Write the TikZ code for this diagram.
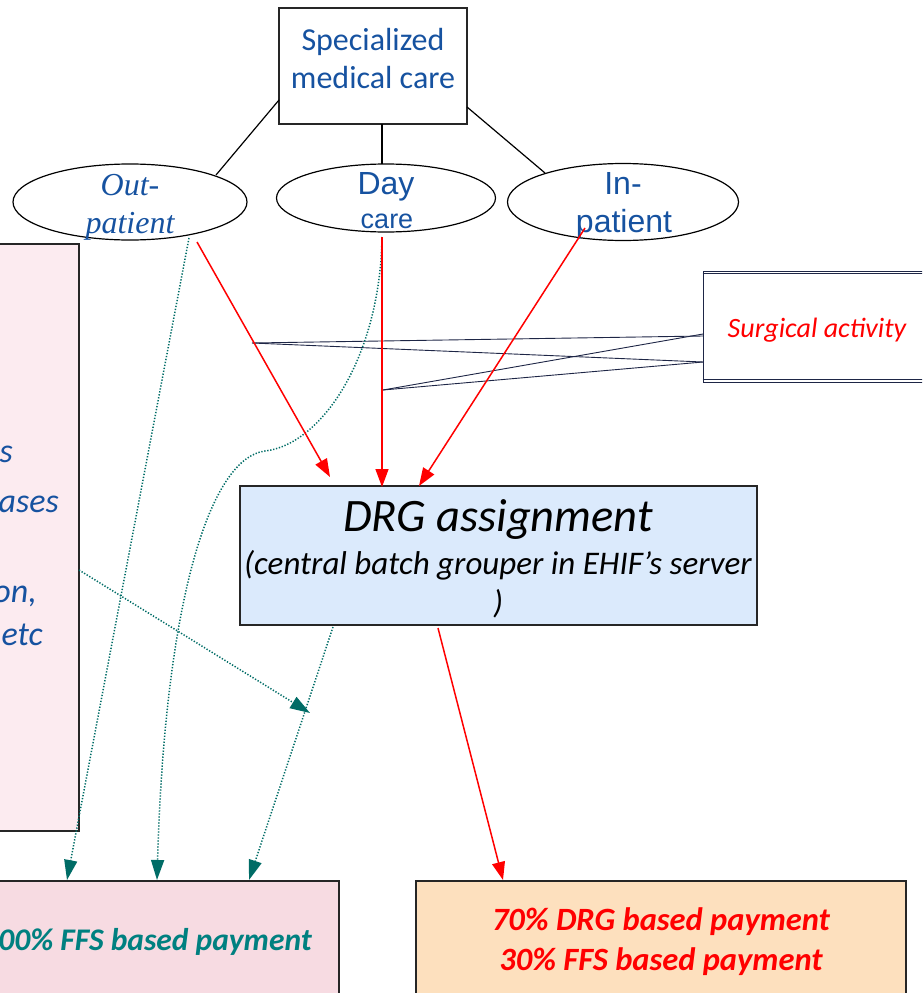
\documentclass[tikz,border=0pt]{standalone}
\usepackage{fontspec}
\usetikzlibrary{arrows.meta,shapes.geometric}
\newfontfamily\calfont{Carlito}
\newfontfamily\arifont{Liberation Sans}
\newfontfamily\timfont{Liberation Serif}
\definecolor{txtblue}{RGB}{22,82,160}
\definecolor{navy}{RGB}{30,38,70}
\definecolor{tealA}{RGB}{0,108,102}
\definecolor{tealT}{RGB}{0,128,128}
\definecolor{pinkL}{RGB}{252,235,240}
\definecolor{pinkB}{RGB}{247,219,226}
\definecolor{peach}{RGB}{253,224,190}
\definecolor{drgblue}{RGB}{219,234,252}
\tikzset{
  boxsty/.style={draw=black!85, line width=1.3pt, rectangle, inner sep=0pt},
  ellsty/.style={draw=black, line width=1.2pt, ellipse, inner sep=0pt},
  txt/.style={inner sep=0pt, anchor=base},
  conn/.style={draw=black, line width=1.2pt},
  navyline/.style={draw=navy, line width=0.9pt},
  redarr/.style={draw=red, line width=1.5pt, -{Triangle[length=18pt,width=13pt]}},
  tealarr/.style={draw=tealA, line width=1.5pt, dash pattern=on 1.3pt off 1.7pt, -{Triangle[length=20pt,width=13pt]}}
}
\begin{document}
\begin{tikzpicture}[x=1pt,y=-1pt]
\useasboundingbox (0,0) rectangle (922,993);
\clip (0,0) rectangle (922,993);

% boxes
\node[boxsty, minimum width=188pt, minimum height=116pt] (spec) at (373,66) {};
\node[boxsty, fill=pinkL, minimum width=109pt, minimum height=587pt] (left) at (24.5,537.5) {};
\node[boxsty, fill=drgblue, minimum width=517pt, minimum height=139pt] (drg) at (498.5,555.5) {};
\node[boxsty, fill=pinkB, minimum width=369pt, minimum height=139pt] (ffs) at (154.5,950.5) {};
\node[boxsty, fill=peach, minimum width=490pt, minimum height=139pt] (mix) at (661,950.5) {};
\node[draw=navy, line width=1pt, rectangle, inner sep=0pt, minimum width=240pt, minimum height=111pt] (surg) at (823,326.5) {};
\draw[navy, line width=0.8pt] (surg.north west) ++(0,3) -- ++(240,0);
\draw[navy, line width=0.8pt] (surg.south west) ++(0,-3) -- ++(240,0);

% ellipses
\node[ellsty, minimum width=234pt, minimum height=76pt] (out) at (130,202) {};
\node[ellsty, minimum width=219pt, minimum height=68pt] (day) at (386,198) {};
\node[ellsty, minimum width=231pt, minimum height=77pt] (inp) at (623,202) {};

% texts
\node[txt, text=txtblue, font=\calfont\fontsize{32}{38}\selectfont] (t1) at (373,50) {Specialized};
\node[txt, text=txtblue, font=\calfont\fontsize{32}{38}\selectfont] (t2) at (373,88) {medical care};
\node[txt, text=txtblue, font=\timfont\itshape\fontsize{32}{38}\selectfont] (t3) at (130,195) {Out-};
\node[txt, text=txtblue, font=\timfont\itshape\fontsize{32}{38}\selectfont] (t4) at (130,233) {patient};
\node[txt, text=txtblue, font=\arifont\fontsize{32}{38}\selectfont] (t5) at (386,194) {Day};
\node[txt, text=txtblue, font=\arifont\fontsize{27}{32}\selectfont] (t6) at (387,228) {care};
\node[txt, text=txtblue, font=\arifont\fontsize{32}{38}\selectfont] (t7) at (623,194) {In-};
\node[txt, text=txtblue, font=\arifont\fontsize{32}{38}\selectfont] (t8) at (624,232) {patient};
\node[txt, text=red, font=\calfont\itshape\fontsize{28}{32}\selectfont] (t9) at (817,337) {Surgical activity};
\node[txt, font=\calfont\itshape\fontsize{46.5}{52}\selectfont] (t10) at (498,531) {DRG assignment};
\node[txt, font=\calfont\itshape\fontsize{33}{38}\selectfont] (t11) at (498,574) {(central batch grouper in EHIF’s server};
\node[txt, font=\calfont\itshape\fontsize{33}{38}\selectfont] (t12) at (498,613) {)};
\node[txt, text=red, font=\calfont\bfseries\itshape\fontsize{32.5}{38}\selectfont] (t13) at (661,930) {70\% DRG based payment};
\node[txt, text=red, font=\calfont\bfseries\itshape\fontsize{32.5}{38}\selectfont] (t14) at (661,970) {30\% FFS based payment};
\node[txt, anchor=base east, text=tealT, font=\calfont\bfseries\itshape\fontsize{31.5}{38}\selectfont] (t15) at (312,950) {00\% FFS based payment};
\node[txt, anchor=base east, text=txtblue, font=\calfont\itshape\fontsize{34}{40}\selectfont] (t16) at (13,462) {s};
\node[txt, anchor=base east, text=txtblue, font=\calfont\itshape\fontsize{34}{40}\selectfont] (t17) at (59,512) {ases};
\node[txt, anchor=base east, text=txtblue, font=\calfont\itshape\fontsize{34}{40}\selectfont] (t18) at (37,602) {on,};
\node[txt, anchor=base east, text=txtblue, font=\calfont\itshape\fontsize{34}{40}\selectfont] (t19) at (43,645) {etc};

% coordinates
\coordinate (so1) at (279,100); \coordinate (so2) at (216,175);
\coordinate (sd1) at (382,124); \coordinate (sd2) at (382,164);
\coordinate (si1) at (467,107); \coordinate (si2) at (545,173);
\coordinate (ob) at (197,242); \coordinate (obt) at (189,238);
\coordinate (db) at (382,237);
\coordinate (ib) at (585,228);
\coordinate (dr1) at (330,477); \coordinate (dr2) at (382,487); \coordinate (dr3) at (419,486);
\coordinate (drb) at (438,628); \coordinate (drbl) at (333,627);
\coordinate (mixt) at (503,880);
\coordinate (ff1) at (67,880); \coordinate (ff2) at (157,880); \coordinate (ff3) at (249,880);
\coordinate (lr) at (79,570); \coordinate (lt) at (310,713);
\coordinate (j1) at (252,343); \coordinate (j2) at (383,390);
\coordinate (sa) at (703,336); \coordinate (sb) at (703,362); \coordinate (sc) at (703,334);

% black tree lines
\draw[conn] (so1) -- (so2);
\draw[conn] (sd1) -- (sd2);
\draw[conn] (si1) -- (si2);

% navy lines to surgical activity
\draw[navyline] (j1) -- (sa);
\draw[navyline] (j1) -- (sb);
\draw[navyline] (j2) -- (sc);
\draw[navyline] (j2) -- (sb);

% teal dotted arrows
\draw[tealarr] (obt) -- (ff1);
\draw[tealarr] (db) .. controls (380,360) and (320,445) .. (265,451) .. controls (210,458) and (165,600) .. (ff2);
\draw[tealarr] (drbl) -- (ff3);
\draw[tealarr] (lr) -- (lt);

% red arrows
\draw[redarr] (ob) -- (dr1);
\draw[redarr] (db) -- (dr2);
\draw[redarr] (ib) -- (dr3);
\draw[redarr] (drb) -- (mixt);
\end{tikzpicture}
\end{document}
